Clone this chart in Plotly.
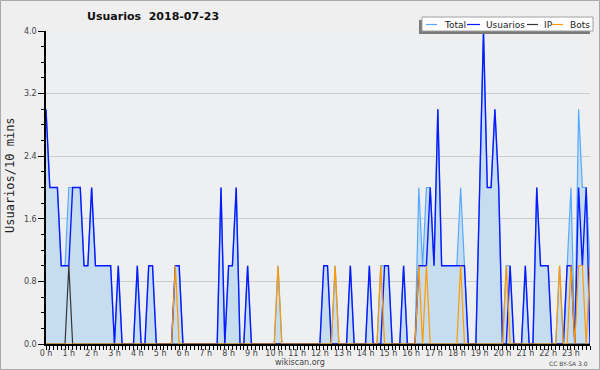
import plotly.graph_objects as go

# ---- data (10-minute slots, 144 per day) ----
hours = [f"{h} h" for h in range(24)]
slot_hours = [i / 6 for i in range(144)]

total = [
    3, 2, 2, 2, 1, 1, 2, 2, 2, 2, 1, 1,
    2, 1, 1, 1, 1, 1, 0, 1, 0, 0, 0, 0,
    1, 0, 0, 1, 1, 0, 0, 0, 0, 0, 1, 1,
    0, 0, 0, 0, 0, 0, 0, 0, 0, 0, 2, 0,
    1, 1, 2, 0, 0, 1, 0, 0, 0, 0, 0, 0,
    0, 1, 0, 0, 0, 0, 0, 0, 0, 0, 0, 0,
    0, 1, 1, 0, 1, 0, 0, 0, 1, 0, 0, 0,
    0, 1, 0, 0, 1, 1, 1, 0, 0, 0, 1, 0,
    0, 0, 2, 1, 2, 2, 1, 3, 1, 1, 1, 1,
    1, 2, 1, 0, 0, 0, 2, 4, 2, 2, 3, 2,
    0, 1, 1, 0, 0, 0, 1, 0, 0, 2, 1, 1,
    1, 0, 0, 1, 0, 1, 2, 0, 3, 2, 2, 1,
]
usuarios = [
    3, 2, 2, 2, 1, 1, 1, 2, 2, 2, 1, 1,
    2, 1, 1, 1, 1, 1, 0, 1, 0, 0, 0, 0,
    1, 0, 0, 1, 1, 0, 0, 0, 0, 0, 1, 1,
    0, 0, 0, 0, 0, 0, 0, 0, 0, 0, 2, 0,
    1, 1, 2, 0, 0, 1, 0, 0, 0, 0, 0, 0,
    0, 0, 0, 0, 0, 0, 0, 0, 0, 0, 0, 0,
    0, 1, 1, 0, 0, 0, 0, 0, 1, 0, 0, 0,
    0, 1, 0, 0, 0, 1, 1, 0, 0, 0, 1, 0,
    0, 0, 1, 1, 1, 2, 1, 3, 1, 1, 1, 1,
    1, 1, 1, 0, 0, 0, 2, 4, 2, 2, 3, 2,
    0, 0, 1, 0, 0, 0, 1, 0, 0, 2, 1, 1,
    1, 0, 0, 0, 0, 1, 1, 0, 2, 1, 2, 0,
]
ip = [0] * 144
ip[6] = 1
bots = [
    0, 0, 0, 0, 0, 0, 0, 0, 0, 0, 0, 0,
    0, 0, 0, 0, 0, 0, 0, 0, 0, 0, 0, 0,
    0, 0, 0, 0, 0, 0, 0, 0, 0, 0, 1, 0,
    0, 0, 0, 0, 0, 0, 0, 0, 0, 0, 0, 0,
    0, 0, 0, 0, 0, 0, 0, 0, 0, 0, 0, 0,
    0, 1, 0, 0, 0, 0, 0, 0, 0, 0, 0, 0,
    0, 0, 0, 0, 1, 0, 0, 0, 0, 0, 0, 0,
    0, 0, 0, 0, 1, 0, 0, 0, 0, 0, 0, 0,
    0, 0, 1, 0, 1, 0, 0, 0, 0, 0, 0, 0,
    0, 1, 0, 0, 0, 0, 0, 0, 0, 0, 0, 0,
    0, 1, 0, 0, 0, 0, 0, 0, 0, 0, 0, 0,
    0, 0, 0, 1, 0, 0, 1, 0, 1, 1, 0, 1,
]

series = [
    ("Total", total, "#55aaff", 1.2),
    ("Usuarios", usuarios, "#0a1aff", 1.4),
    ("IP", ip, "#333333", 1.2),
    ("Bots", bots, "#ff9900", 1.2),
]

# ---- geometry helpers (pixel -> paper) ----
L, R, T, B = 46, 10, 31, 26
W, H = 600, 370
PW, PH = W - L - R, H - T - B


def xp(px):
    return (px - L) / PW


def yp(py):
    return (H - B - py) / PH


fig = go.Figure()
for name, vals, color, width in series:
    kw = {}
    if name == "Total":
        kw = dict(fill="tozeroy", fillcolor="#c6ddf0")
    fig.add_trace(go.Scatter(x=slot_hours, y=vals, mode="lines", name=name,
                             line=dict(color=color, width=width),
                             showlegend=False, **kw))

shapes = []
annotations = []

# outer border
shapes.append(dict(type="rect", xref="paper", yref="paper",
                   x0=xp(0.5), x1=xp(599.5), y0=yp(369.5), y1=yp(0.5),
                   line=dict(color="#a8a8a8", width=1), fillcolor="rgba(0,0,0,0)"))

# custom legend box with shadow
shapes.append(dict(type="rect", xref="paper", yref="paper",
                   x0=xp(419), x1=xp(590), y0=yp(34), y1=yp(20),
                   line=dict(width=0), fillcolor="#7a7a7a"))
shapes.append(dict(type="rect", xref="paper", yref="paper",
                   x0=xp(422), x1=xp(593), y0=yp(31), y1=yp(17),
                   line=dict(color="#a0a0a0", width=1), fillcolor="white"))
legend_pos = [(426, 437, 442), (467, 480, 484), (527, 538, 542), (552, 563, 568)]
for (name, _, color, _w), (l0, l1, tx) in zip(series, legend_pos):
    shapes.append(dict(type="line", xref="paper", yref="paper",
                       x0=xp(l0), x1=xp(l1), y0=yp(24.5), y1=yp(24.5),
                       line=dict(color=color, width=1.2)))
    annotations.append(dict(text=name, xref="paper", yref="paper",
                            x=xp(tx), y=yp(24.5), xanchor="left", yanchor="middle",
                            showarrow=False,
                            font=dict(family="DejaVu Sans", size=9, color="#222")))

# title
annotations.append(dict(text="<b>Usuarios&nbsp; 2018-07-23</b>", xref="paper", yref="paper",
                        x=xp(85), y=yp(16.5), xanchor="left", yanchor="middle",
                        showarrow=False,
                        font=dict(family="DejaVu Sans", size=11, color="#111")))
# y title
annotations.append(dict(text="Usuarios/10 mins", xref="paper", yref="paper",
                        x=xp(10), y=yp(175), xanchor="center", yanchor="middle",
                        textangle=-90, showarrow=False,
                        font=dict(family="DejaVu Sans Mono", size=12, color="#222")))
# footer texts
annotations.append(dict(text="wikiscan.org", xref="paper", yref="paper",
                        x=xp(300), y=yp(362.5), xanchor="center", yanchor="middle",
                        showarrow=False,
                        font=dict(family="DejaVu Sans", size=8, color="#444")))
annotations.append(dict(text="CC BY-SA 3.0", xref="paper", yref="paper",
                        x=xp(590), y=yp(363.5), xanchor="right", yanchor="middle",
                        showarrow=False,
                        font=dict(family="DejaVu Sans", size=6, color="#444")))

fig.update_layout(
    width=W, height=H,
    margin=dict(l=L, r=R, t=T, b=B, pad=0),
    paper_bgcolor="#efefef",
    plot_bgcolor="#eeeff1",
    showlegend=False,
    shapes=shapes,
    annotations=annotations,
    xaxis=dict(
        range=[0, 143 / 6],
        tickmode="array", tickvals=list(range(24)), ticktext=hours,
        showgrid=False, zeroline=False,
        showline=True, linecolor="black", linewidth=1.5,
        ticks="outside", ticklen=4, tickcolor="black", tickwidth=1,
        ticklabelstandoff=-3,
        tickfont=dict(family="DejaVu Sans", size=8, color="#444"),
        minor=dict(tick0=0, dtick=1 / 6, ticks="outside", ticklen=4,
                   tickcolor="black", tickwidth=1, showgrid=False),
    ),
    yaxis=dict(
        range=[0, 4],
        tick0=0, dtick=0.8, tickformat=".1f",
        showgrid=True, gridcolor="#cccccc", gridwidth=1,
        zeroline=False,
        showline=True, linecolor="black", linewidth=1.5,
        ticks="outside", ticklen=6, tickcolor="black", tickwidth=1,
        tickfont=dict(family="DejaVu Sans", size=8, color="#444"),
        minor=dict(tick0=0, dtick=0.2, ticks="outside", ticklen=3,
                   tickcolor="black", tickwidth=1, showgrid=False),
    ),
)

fig.write_html("out.html")
